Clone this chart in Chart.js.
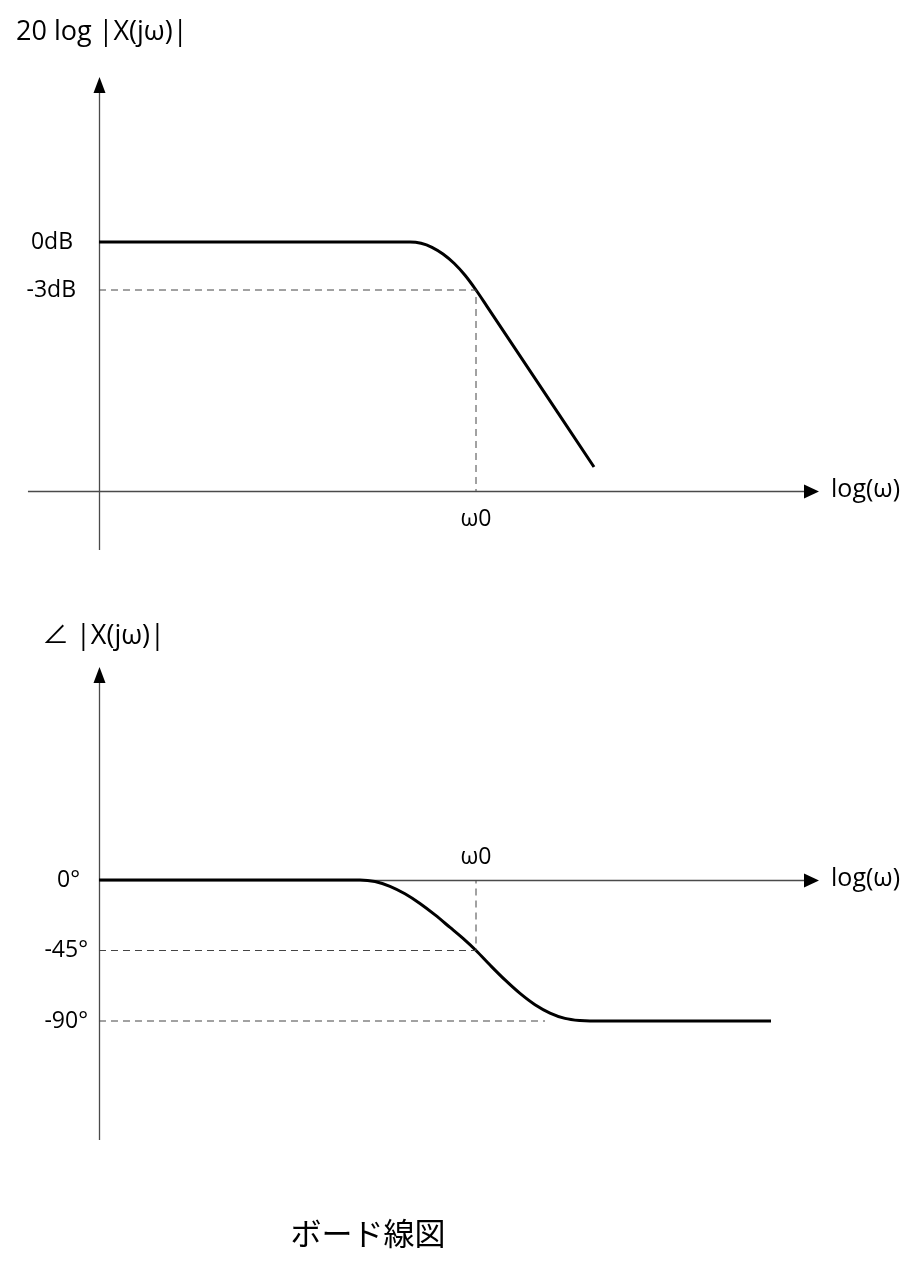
<!DOCTYPE html>
<html>
<head>
<meta charset="utf-8">
<script src="https://cdn.jsdelivr.net/npm/chart.js@4.4.1/dist/chart.umd.min.js"></script>
<style>
  html, body { margin: 0; padding: 0; background: #fff; }
  body { width: 922px; height: 1275px; position: relative; overflow: hidden; }
  canvas { position: absolute; left: 0; }
</style>
</head>
<body>
<canvas id="mag" width="922" height="580" style="top:0"></canvas>
<canvas id="phase" width="922" height="695" style="top:580px"></canvas>
<script>
// ---- data (x in decades relative to ω0 = 0) ----
const magX = [-3.195, -0.559, -0.466, -0.373, -0.280, -0.186, -0.093, 0.0, 0.093, 1.0];
const magY = [0, 0, -0.08, -0.33, -0.75, -1.33, -2.08, -3.0, -4.02, -14.06];
const phaseX = [-3.195, -0.983, -0.856, -0.729, -0.602, -0.475, -0.347, -0.220, -0.110, 0.0,
                0.119, 0.246, 0.373, 0.500, 0.627, 0.754, 0.881, 0.966, 2.5];
const phaseY = [0, 0, -1.0, -4.0, -8.8, -15.0, -22.3, -30.3, -37.3, -45,
                -54.3, -63.8, -72.4, -79.6, -84.9, -88.3, -89.7, -90, -90];
const magTickValues = [0, -3];
const magTickLabels = ['0dB', '-3dB'];
const phaseTickValues = [0, -45, -90];
const phaseTickLabels = ['0°', '-45°', '-90°'];
const omega0 = 0;
const magTitle = '20 log |X(jω)|';
const phaseTitle = '∠ |X(jω)|';
const xAxisLabel = 'log(ω)';
const omegaLabel = 'ω0';
const caption = 'ボード線図';

const LATIN = '"Open Sans", "Noto Sans CJK JP", sans-serif';
const toPts = (xs, ys) => xs.map((x, i) => ({ x, y: ys[i] }));

function arrowUp(ctx, x, y) {
  ctx.beginPath(); ctx.moveTo(x, y); ctx.lineTo(x - 6, y + 16); ctx.lineTo(x + 6, y + 16); ctx.closePath(); ctx.fill();
}
function arrowRight(ctx, x, y) {
  ctx.beginPath(); ctx.moveTo(x, y); ctx.lineTo(x - 15, y - 7); ctx.lineTo(x - 15, y + 7); ctx.closePath(); ctx.fill();
}

function axesPlugin(cfg) {
  return {
    id: 'axes_' + cfg.id,
    beforeDatasetsDraw(chart) {
      const ctx = chart.ctx, xs = chart.scales.x, ys = chart.scales.y;
      const ax = Math.round(xs.getPixelForValue(cfg.yAxisAt)) + 0.5;
      const ay = Math.round(ys.getPixelForValue(cfg.xAxisAt)) + 0.5;
      ctx.save();
      ctx.strokeStyle = '#4a4a4a'; ctx.fillStyle = '#000'; ctx.lineWidth = 1.3;
      const yTop = ys.getPixelForValue(cfg.yAxisTop), yBot = ys.getPixelForValue(cfg.yAxisBottom);
      ctx.beginPath(); ctx.moveTo(ax, yBot); ctx.lineTo(ax, yTop + 14); ctx.stroke();
      arrowUp(ctx, ax, yTop);
      const xL = xs.getPixelForValue(cfg.xAxisLeft), xR = xs.getPixelForValue(cfg.xAxisRight);
      ctx.beginPath(); ctx.moveTo(xL, ay); ctx.lineTo(xR - 13, ay); ctx.stroke();
      arrowRight(ctx, xR, ay);
      ctx.restore();
    },
    afterDraw(chart) {
      const ctx = chart.ctx, xs = chart.scales.x, ys = chart.scales.y;
      const ay = ys.getPixelForValue(cfg.xAxisAt);
      ctx.save();
      ctx.fillStyle = '#000';
      ctx.textBaseline = 'middle';
      ctx.font = '27px ' + LATIN; ctx.textAlign = 'left';
      ctx.fillText(cfg.title, cfg.titleX, cfg.titleY);
      ctx.font = '23px ' + LATIN; ctx.textAlign = 'right';
      cfg.tickValues.forEach((v, i) => ctx.fillText(cfg.tickLabels[i], cfg.tickRight[i], ys.getPixelForValue(v)));
      ctx.font = '25px ' + LATIN; ctx.textAlign = 'left';
      ctx.fillText(xAxisLabel, xs.getPixelForValue(cfg.xAxisRight) + 12, ay - 1);
      ctx.font = '23px ' + LATIN; ctx.textAlign = 'center';
      ctx.fillText(omegaLabel, xs.getPixelForValue(omega0), ay + cfg.omegaDy);
      if (cfg.caption) {
        ctx.font = '31px "Noto Sans CJK JP", sans-serif'; ctx.textAlign = 'center';
        ctx.fillText(cfg.caption, 368, cfg.captionY);
      }
      ctx.restore();
    }
  };
}

const dashStyle = { borderColor: '#444', borderWidth: 1, borderDash: [7, 5], pointRadius: 0, fill: false, tension: 0 };
const curveStyle = { borderColor: '#000', borderWidth: 3, pointRadius: 0, fill: false, cubicInterpolationMode: 'monotone' };

function baseOptions(xmin, xmax, ymin, ymax, pad) {
  return {
    responsive: false, animation: false, devicePixelRatio: 1,
    layout: { padding: pad },
    plugins: { legend: { display: false }, tooltip: { enabled: false }, title: { display: false } },
    scales: {
      x: { type: 'linear', min: xmin, max: xmax, display: false },
      y: { type: 'linear', min: ymin, max: ymax, display: false }
    },
    events: []
  };
}

// ---- magnitude ----
const magAxisY = -15.56;
new Chart(document.getElementById('mag'), {
  type: 'line',
  data: {
    datasets: [
      Object.assign({ data: [{ x: magX[0], y: magTickValues[1] }, { x: omega0, y: magTickValues[1] }, { x: omega0, y: magAxisY }] }, dashStyle),
      Object.assign({ data: toPts(magX, magY) }, curveStyle)
    ]
  },
  options: baseOptions(-4, 3.5, -20, 12, { left: 4, right: 33, top: 50, bottom: 18 }),
  plugins: [axesPlugin({
    id: 'mag', yAxisAt: magX[0], xAxisAt: magAxisY,
    yAxisTop: 10.31, yAxisBottom: -19.25, xAxisLeft: -3.797, xAxisRight: 2.907,
    title: magTitle, titleX: 16, titleY: 32,
    tickValues: magTickValues, tickLabels: magTickLabels, tickRight: [73, 76],
    omegaDy: 28
  })]
});

// ---- phase ----
new Chart(document.getElementById('phase'), {
  type: 'line',
  data: {
    datasets: [
      Object.assign({ data: [{ x: phaseX[0], y: phaseTickValues[1] }, { x: omega0, y: phaseTickValues[1] }, { x: omega0, y: 0 }] }, dashStyle),
      Object.assign({ data: [{ x: phaseX[0], y: phaseTickValues[2] }, { x: 0.585, y: phaseTickValues[2] }] }, dashStyle),
      Object.assign({ data: toPts(phaseX, phaseY) }, curveStyle)
    ]
  },
  options: baseOptions(-4, 3.5, -180, 150, { left: 4, right: 33, top: 65, bottom: 113 }),
  plugins: [axesPlugin({
    id: 'phase', yAxisAt: phaseX[0], xAxisAt: 0,
    yAxisTop: 136, yAxisBottom: -166, xAxisLeft: phaseX[0], xAxisRight: 2.907,
    title: phaseTitle, titleX: 42, titleY: 56,
    tickValues: phaseTickValues, tickLabels: phaseTickLabels, tickRight: [80, 88, 88],
    omegaDy: -23, caption: caption, captionY: 653
  })]
});
</script>
</body>
</html>
